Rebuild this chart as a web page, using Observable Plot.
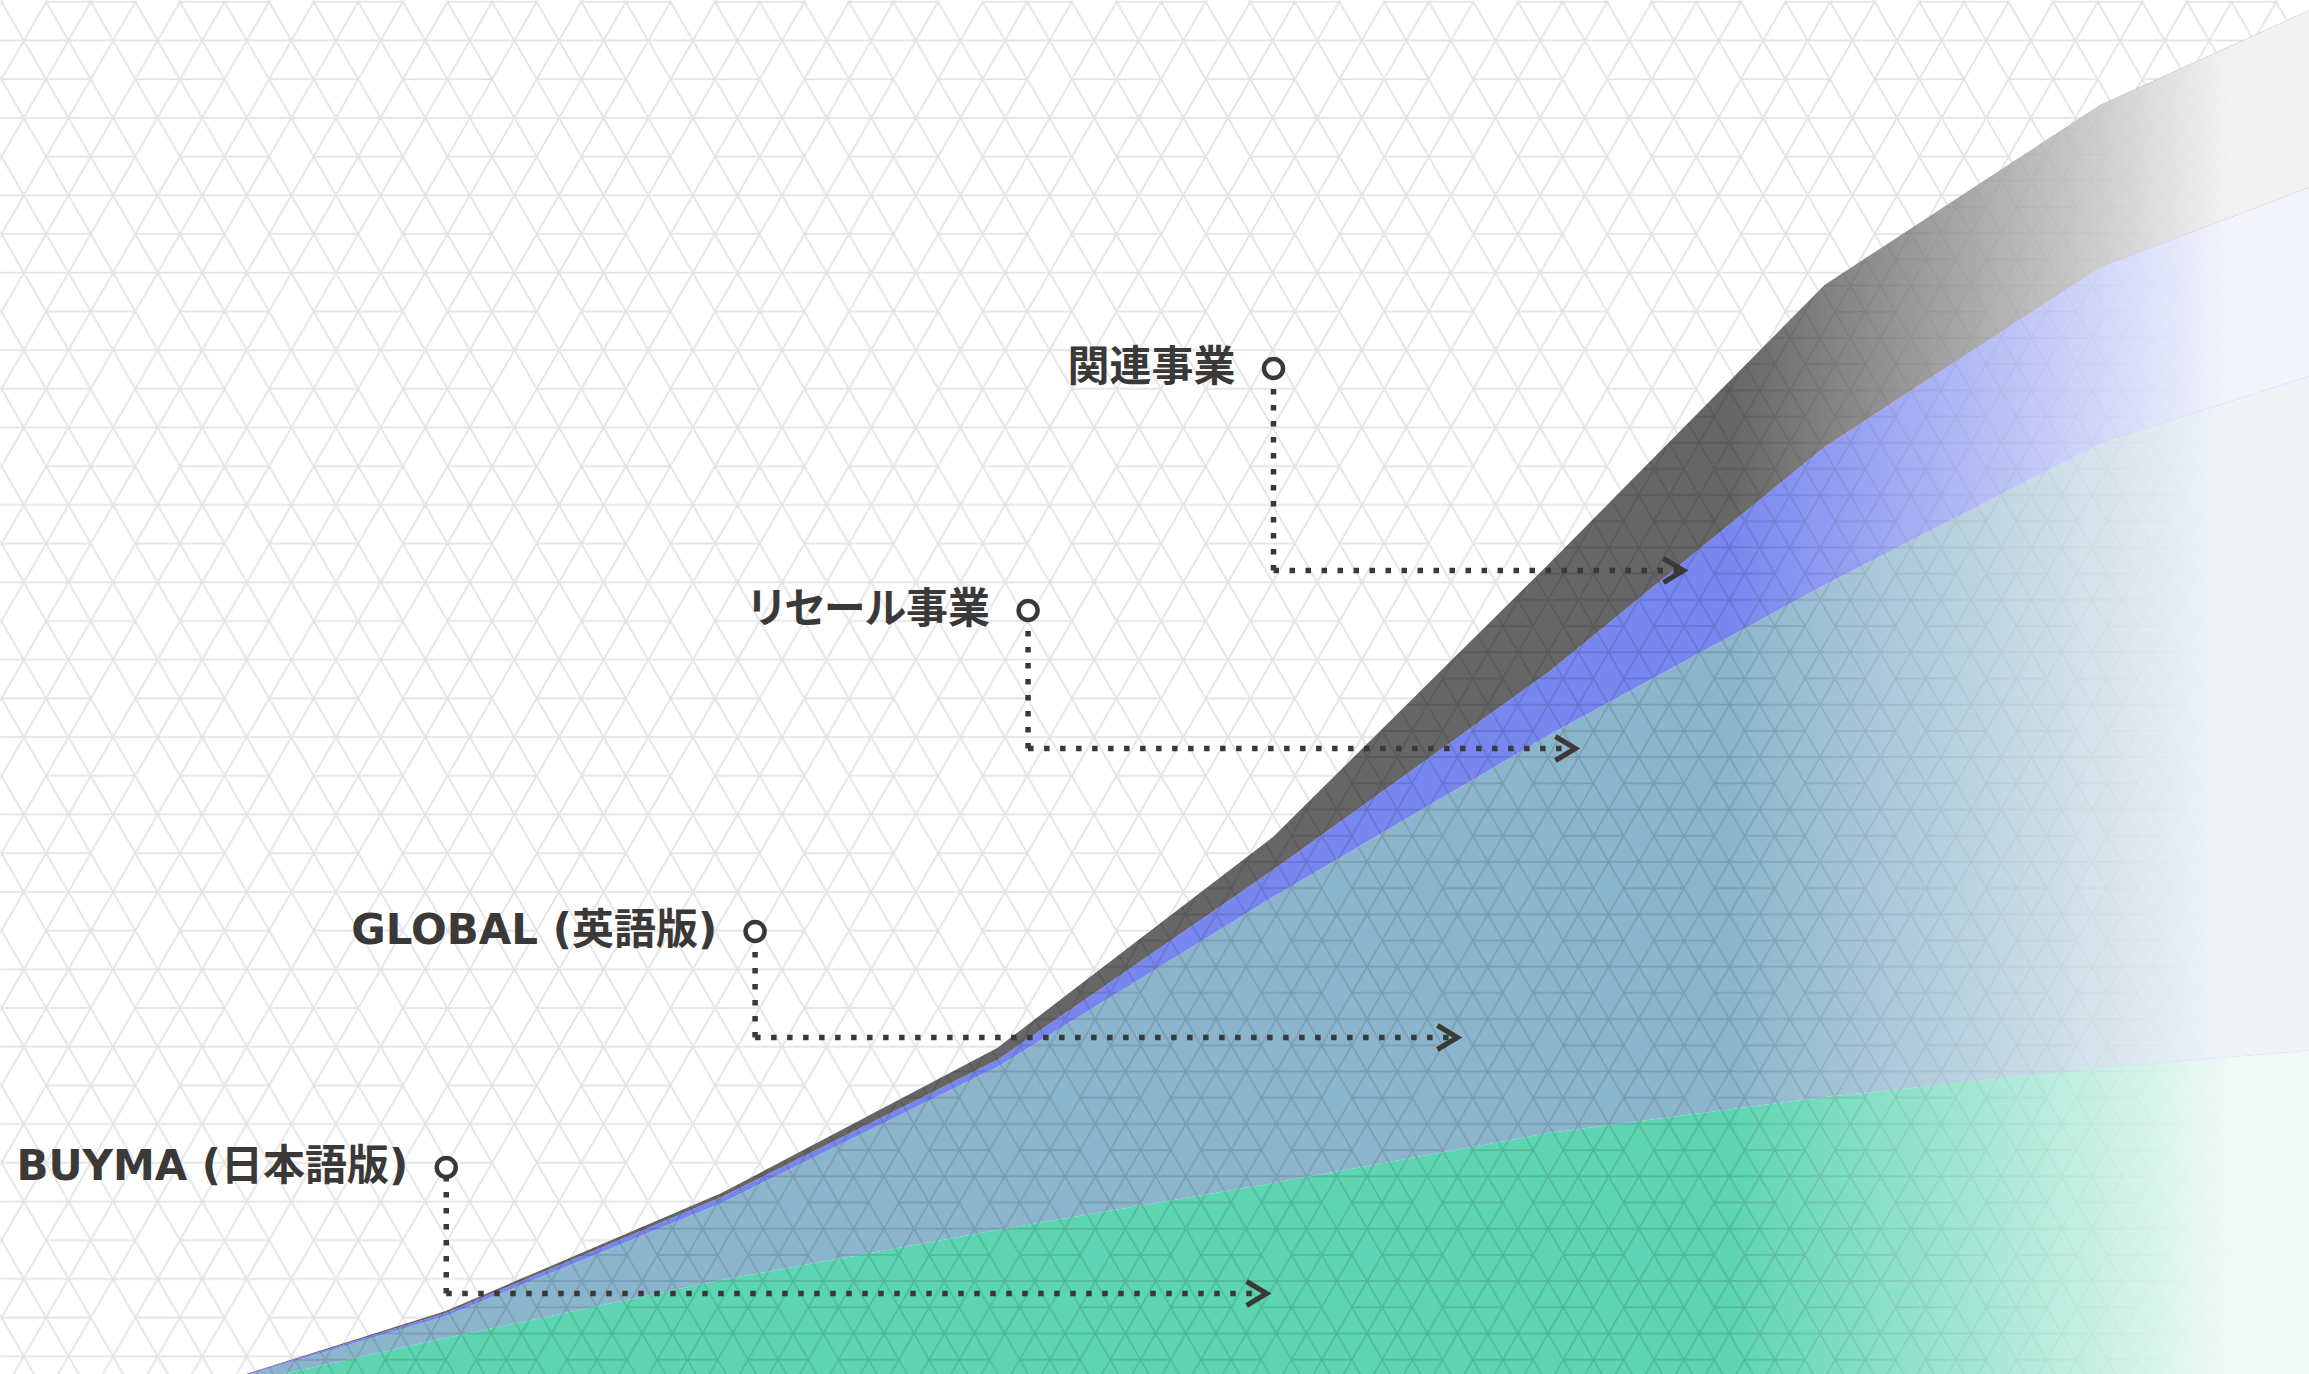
<!DOCTYPE html>
<html lang="ja">
<head>
<meta charset="utf-8">
<script src="https://cdn.jsdelivr.net/npm/d3@7"></script>
<script src="https://cdn.jsdelivr.net/npm/@observablehq/plot@0.6"></script>
<style>
  html, body { margin: 0; padding: 0; background: #ffffff; }
  #chart svg { display: block; }
  #chart text { font-feature-settings: "palt"; }
</style>
</head>
<body>
<div id="chart"></div>
<script>
// ---- data (stack order: bottom to top) ----
const periods = [0, 1, 2, 3, 4, 5, 6, 7, 8];
const seriesNames = ["BUYMA (日本語版)", "GLOBAL (英語版)", "リセール事業", "関連事業"];
const buymaValues   = [10.1, 16.2, 22.0, 27.0, 31.7, 36.7, 40.3, 43.2, 45.5];
const globalValues  = [0.1, 2.2, 7.7, 16.3, 28.6, 39.8, 51.2, 62.5, 69.0];
const resaleValues  = [0.0, 0.3, 0.6, 0.7, 2.7, 6.3, 13.8, 17.6, 19.3];
const relatedValues = [0.0, 0.2, 0.4, 1.2, 3.3, 10.8, 16.2, 16.2, 18.2];
const seriesColors  = ["#5dd5b2", "#8bb5cc", "#7886f0", "#666666"];
const fadeColors    = ["#f3fbf8", "#f3f6f9", "#f6f7fd", "#f7f7f7"];

// ---- annotation anchors (data space) ----
const labelX  = [1.0, 2.12, 3.11, 4.0];       // circle marker position (period)
const labelY  = [33.3, 56.9, 89.0, 113.2];    // circle marker position (value)
const elbowY  = [20.7, 46.3, 75.2, 93.0];     // level of the horizontal leader
const arrowX  = [3.975, 4.667, 5.095, 5.487]; // arrow tip (period)

// ---- build tables ----
const allValues = [buymaValues, globalValues, resaleValues, relatedValues];
const colorFor = Object.fromEntries(seriesNames.map((s, i) => [s, seriesColors[i]]));
const fadeFor = Object.fromEntries(seriesNames.map((s, i) => [s, `url(#fade-${i})`]));
const table = seriesNames.flatMap((s, j) =>
  periods.map((p, i) => ({period: p, series: s, value: allValues[j][i]})));
const totals = periods.map((p, i) => ({period: p, total: d3.sum(allValues, v => v[i])}));
const annos = seriesNames.map((s, i) => ({
  label: s, cx: labelX[i], cy: labelY[i], ey: elbowY[i], ax: arrowX[i]
}));

const ink = "#3a3937";
const fontFamily = "'DejaVu Sans', 'Noto Sans CJK JP', sans-serif";

// chevron symbol for the arrow heads (tip at the anchor)
const chevron = {
  draw(context, size) {
    const u = Math.sqrt(size / Math.PI) / 12;
    context.moveTo(-20 * u, -12 * u);
    context.lineTo(0, 0);
    context.lineTo(-20 * u, 12 * u);
  }
};

const W = 2309, H = 1374;
const step = 275.75, x0px = 170;

const plot = Plot.plot({
  width: W,
  height: H,
  margin: 0,
  x: {domain: [-x0px / step, (W - x0px) / step], axis: null},
  y: {domain: [12.6, 150], axis: null},
  color: {type: "identity"},
  style: {background: "#ffffff", overflow: "hidden"},
  marks: [
    Plot.frame({fill: "url(#bgPattern)", stroke: "none"}),
    // solid stacked areas
    Plot.areaY(table, {x: "period", y: "value", z: "series", fill: d => colorFor[d.series], clip: true}),
    // fine lattice texture over all areas
    Plot.areaY(totals, {x: "period", y: "total", fill: () => "url(#areaPattern)", clip: true}),
    // fade to near-white on the right, per series
    Plot.areaY(table, {x: "period", y: "value", z: "series", fill: d => fadeFor[d.series], clip: true}),
    // leaders
    Plot.link(annos, {x1: "cx", y1: "ey", x2: "cx", y2: "cy", stroke: ink, strokeWidth: 5.5, strokeDasharray: "5.5 10.5"}),
    Plot.link(annos, {x1: "cx", y1: "ey", x2: d => d.ax - 0.02, y2: "ey", stroke: ink, strokeWidth: 5.5, strokeDasharray: "5.5 10.5"}),
    Plot.dot(annos, {x: "ax", y: "ey", symbol: chevron, r: 12, stroke: ink, strokeWidth: 5, fill: "none", strokeLinejoin: "miter"}),
    Plot.dot(annos, {x: "cx", y: "cy", r: 9.5, stroke: ink, strokeWidth: 4.5, fill: "#ffffff"}),
    Plot.text(annos, {x: "cx", y: "cy", text: "label", textAnchor: "end", dx: -38, dy: -1,
      fontSize: 42, fontWeight: 700, fill: ink, fontFamily})
  ]
});

document.getElementById("chart").appendChild(plot);

// ---- defs: triangle lattice patterns, fade gradients ----
const svg = d3.select(plot);
const defs = svg.insert("defs", ":first-child");

function mod(a, n) { return ((a % n) + n) % n; }
function latticeTile(pattern, s, h, stroke, sw, bg) {
  const w = 3 * s, hh = 4 * h;
  pattern.attr("width", w).attr("height", hh);
  if (bg) pattern.append("rect").attr("width", w).attr("height", hh).attr("fill", bg);
  const segs = [];
  for (let j = -1; j <= 4; j++) {
    const y = h / 2 + j * h;
    const off = mod(j, 2) === 1 ? s / 2 : 0;
    const jm = mod(j, 4);
    for (let k = -1; k <= 4; k++) {
      const x = k * s + off;
      segs.push([x, y, x - s / 2, y + h]);
      segs.push([x, y, x + s / 2, y + h]);
      let skip = false;
      if (jm === 1) skip = mod(k, 3) === 1;
      if (jm === 3) skip = mod(k, 3) === 2;
      if (!skip) segs.push([x, y, x + s, y]);
    }
  }
  pattern.append("path")
    .attr("d", segs.map(([a, b, c, d]) => `M${a},${b}L${c},${d}`).join(""))
    .attr("fill", "none")
    .attr("stroke", stroke)
    .attr("stroke-width", sw)
    .attr("stroke-linecap", "round");
}

const bgS = 44.6, bgH = 38.7;
const bgPat = defs.append("pattern").attr("id", "bgPattern")
  .attr("patternUnits", "userSpaceOnUse").attr("x", 23.3).attr("y", 40 - bgH / 2);
latticeTile(bgPat, bgS, bgH, "#e3e3e3", 1.8, "#ffffff");

const smS = 30.2, smH = 26.2;
const smPat = defs.append("pattern").attr("id", "areaPattern")
  .attr("patternUnits", "userSpaceOnUse").attr("x", 8).attr("y", 966.7 - smH / 2);
latticeTile(smPat, smS, smH, "rgba(0,0,0,0.13)", 1.5, null);

fadeColors.forEach((c, i) => {
  const g = defs.append("linearGradient").attr("id", `fade-${i}`)
    .attr("gradientUnits", "userSpaceOnUse")
    .attr("x1", 1730).attr("x2", 2230).attr("y1", 0).attr("y2", 0);
  g.append("stop").attr("offset", 0).attr("stop-color", c).attr("stop-opacity", 0);
  g.append("stop").attr("offset", 1).attr("stop-color", c).attr("stop-opacity", 0.97);
});
</script>
</body>
</html>
